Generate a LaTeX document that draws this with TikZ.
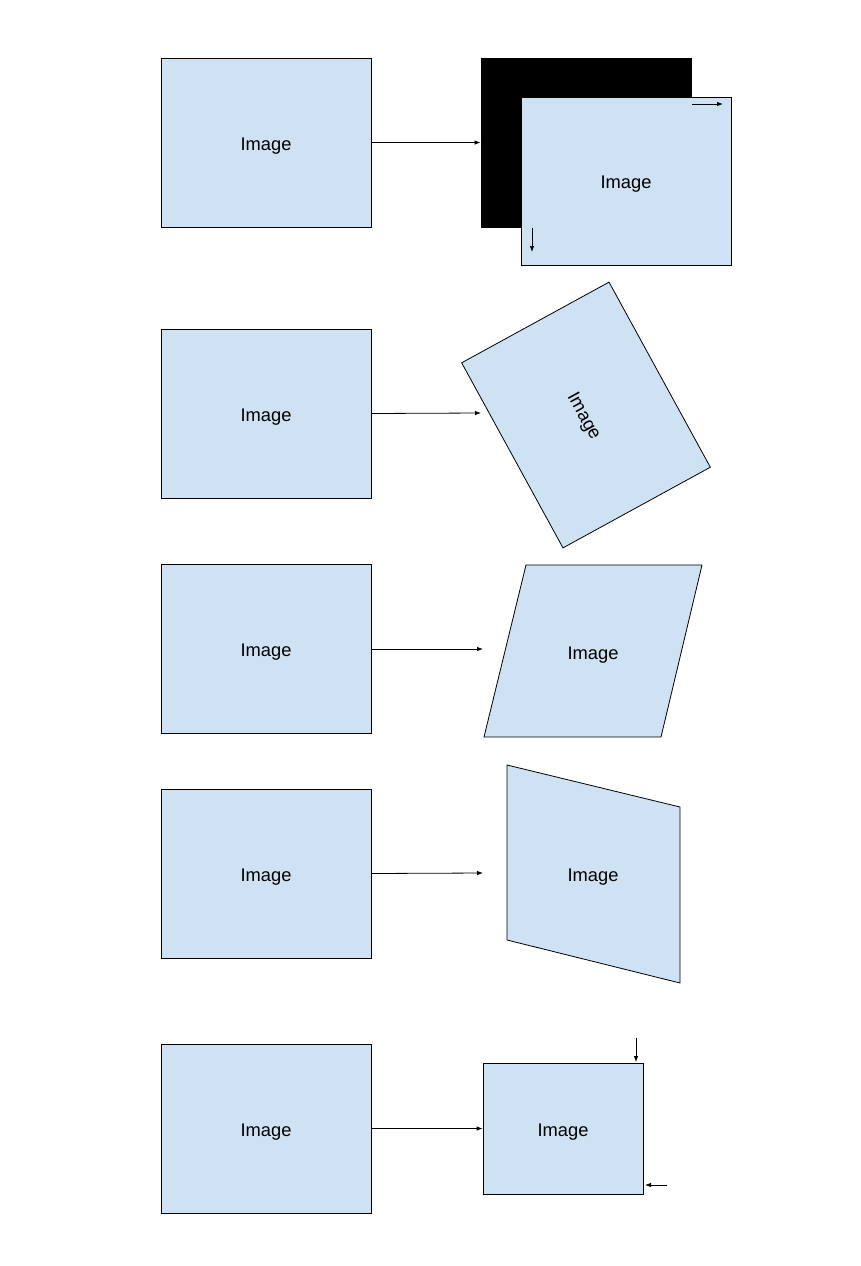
\documentclass[tikz,border=0pt]{standalone}
\usepackage{fontspec}
\setmainfont{Liberation Sans}
\usetikzlibrary{arrows.meta}
\definecolor{imgblue}{HTML}{CFE2F3}
\tikzset{
  lbl/.style={font=\fontsize{18.3}{22}\selectfont, text height=15pt, text depth=0pt},
  img/.style={lbl, draw, fill=imgblue, line width=0.8pt, inner sep=0pt},
  src/.style={img, minimum width=210pt, minimum height=169pt},
  arr/.style={-{Latex[length=6pt,width=4.5pt]}, line width=0.8pt}
}
\begin{document}
\begin{tikzpicture}[x=1pt,y=-1pt]
\useasboundingbox (0,0) rectangle (860,1266);
\def\skewshape{(526,565) -- (702,565) -- (661,737) -- (484,737) -- cycle}
\def\tiltshape{(507,765) -- (680,807) -- (680,983) -- (507,940) -- cycle}
\foreach \n/\y in {a/142.5,b/413.5,c/649,d/873.5,e/1128.5}
  \node[src] (src\n) at (266,\y) {Image};
% translate
\node[src, fill=black] (back) at (586,142.5) {};
\node[src, minimum height=168pt] (shift) at (626,181) {Image};
\coordinate (sx) at (692,104);
\coordinate (sy) at (532,228);
\draw[arr] (srca.east) -- (back.west);
\draw[arr] (sx) -- ++(31,0);
\draw[arr] (sy) -- ++(0,24);
% rotate
\node[src, rotate=-61.3, minimum width=211pt, minimum height=168pt] (rot) at (586,415) {Image};
\coordinate (rotin) at (481,413);
\draw[arr] (srcb.east) -- (rotin);
% shear
\draw[img] \skewshape;
\node[lbl] (skew) at (593,652) {Image};
\coordinate (skewin) at (483,649);
\draw[arr] (srcc.east) -- (skewin);
% perspective
\draw[img] \tiltshape;
\node[lbl] (tilt) at (593,874) {Image};
\coordinate (tiltin) at (483,873);
\draw[arr] (srcd.east) -- (tiltin);
% crop
\node[img, minimum width=160pt, minimum height=131pt] (crop) at (563,1128.5) {Image};
\coordinate (cy) at (636,1038);
\coordinate (cx) at (667,1185);
\draw[arr] (srce.east) -- (crop.west);
\draw[arr] (cy) -- ++(0,24);
\draw[arr] (cx) -- ++(-22,0);
\end{tikzpicture}
\end{document}
